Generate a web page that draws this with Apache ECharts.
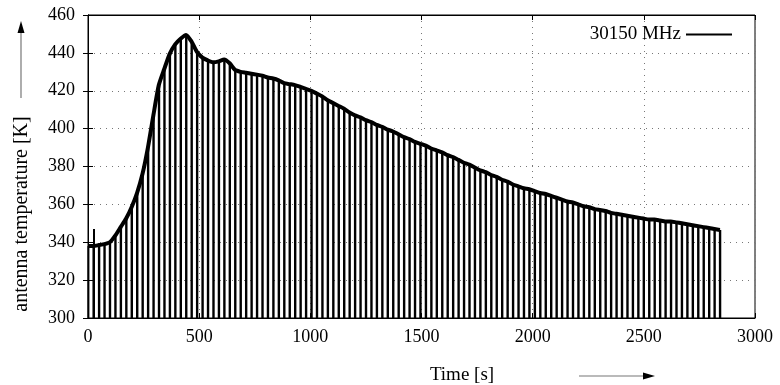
<!DOCTYPE html>
<html>
<head>
<meta charset="utf-8">
<script src="https://cdn.jsdelivr.net/npm/echarts@6/dist/echarts.min.js"></script>
<style>html,body{margin:0;padding:0;background:#fff}#c{width:780px;height:385px}</style>
</head>
<body>
<div id="c"></div>
<script>
var times = [0, 24.5, 49, 73.5, 98, 122.5, 147, 171.5, 196, 220.5, 245, 269.5, 294, 318.5, 343, 367.5, 392, 416.5, 441, 465.5,
  490, 514.5, 539, 563.5, 588, 612.5, 637, 661.5, 686, 710.5, 735, 759.5, 784, 808.5, 833, 857.5, 882, 906.5, 931, 955.5,
  980, 1004.5, 1029, 1053.5, 1078, 1102.5, 1127, 1151.5, 1176, 1200.5, 1225, 1249.5, 1274, 1298.5, 1323, 1347.5, 1372, 1396.5, 1421, 1445.5,
  1470, 1494.5, 1519, 1543.5, 1568, 1592.5, 1617, 1641.5, 1666, 1690.5, 1715, 1739.5, 1764, 1788.5, 1813, 1837.5, 1862, 1886.5, 1911, 1935.5,
  1960, 1984.5, 2009, 2033.5, 2058, 2082.5, 2107, 2131.5, 2156, 2180.5, 2205, 2229.5, 2254, 2278.5, 2303, 2327.5, 2352, 2376.5, 2401, 2425.5,
  2450, 2474.5, 2499, 2523.5, 2548, 2572.5, 2597, 2621.5, 2646, 2670.5, 2695, 2719.5, 2744, 2768.5, 2793, 2817.5, 2842];
var temps = [338, 338, 338.5, 339, 340, 343.5, 348, 352.5, 358.5, 366, 376, 390, 407, 423, 431.5, 439.5, 444.5, 447.5, 449.5, 446,
  440.5, 437.5, 436, 435, 435.5, 436.5, 434.5, 431, 430, 429.5, 429, 428.5, 428, 427, 426.5, 425.5, 424, 423.5, 423, 422,
  421, 420, 418.5, 417, 415, 413.5, 412, 410.5, 408.5, 407, 406, 404.5, 403.5, 402, 401, 399.5, 398.5, 397, 395.5, 394.5,
  393, 392, 391, 389.5, 388.5, 387.5, 386, 385, 383.5, 382, 381, 379.5, 378, 377, 375.5, 374.5, 373, 372, 370.5, 369.5,
  368.5, 368, 367, 366, 365.5, 364.5, 363.5, 362.5, 361.5, 361, 360, 359, 358.5, 357.5, 357, 356.5, 355.5, 355, 354.5, 354,
  353.5, 353, 352.5, 352, 352, 351.5, 351, 351, 350.5, 350, 349.5, 349, 348.5, 348, 347.5, 347, 346.5];
var spikeTimes = [27];
var spikeValues = [347];
var xTicks = [0, 500, 1000, 1500, 2000, 2500, 3000];
var yTicks = [300, 320, 340, 360, 380, 400, 420, 440, 460];
var seriesName = '30150 MHz';

var curve = times.map(function (t, i) { return [t, temps[i]]; });
var spikes = spikeTimes.map(function (t, i) { return [t, spikeValues[i]]; });

var FONT = 'Liberation Serif';
var chart = echarts.init(document.getElementById('c'));
var gridLine = { show: true, lineStyle: { color: '#777', type: [1, 5], width: 1 } };
chart.setOption({
  animation: false,
  textStyle: { fontFamily: FONT },
  grid: { left: 88, right: 25, top: 15, bottom: 67, show: true, borderColor: '#000', borderWidth: 1 },
  legend: {
    data: [seriesName], right: 43, top: 20, align: 'right', itemWidth: 46, itemHeight: 2, icon: 'rect',
    textStyle: { fontFamily: FONT, fontSize: 19, color: '#000' }, itemGap: 0
  },
  xAxis: [{
    type: 'value', min: xTicks[0], max: xTicks[xTicks.length - 1], interval: 500,
    axisLine: { show: true, lineStyle: { color: '#000' } },
    axisTick: { show: true, inside: true, length: 5, lineStyle: { color: '#000' } },
    axisLabel: { fontFamily: FONT, fontSize: 18, color: '#000', margin: 10, formatter: function (v) { return String(v); } },
    splitLine: gridLine
  }, {
    type: 'value', position: 'top', min: xTicks[0], max: xTicks[xTicks.length - 1], interval: 500,
    axisLine: { show: true, lineStyle: { color: '#000' } },
    axisTick: { show: true, inside: true, length: 5, lineStyle: { color: '#000' } },
    axisLabel: { show: false }, splitLine: { show: false }
  }],
  yAxis: [{
    type: 'value', min: yTicks[0], max: yTicks[yTicks.length - 1], interval: 20,
    axisLine: { show: true, lineStyle: { color: '#000' } },
    axisTick: { show: true, inside: true, length: 5, lineStyle: { color: '#000' } },
    axisLabel: { fontFamily: FONT, fontSize: 18, color: '#000', margin: 13, formatter: function (v) { return String(v); } },
    splitLine: gridLine
  }, {
    type: 'value', position: 'right', min: yTicks[0], max: yTicks[yTicks.length - 1], interval: 20,
    axisLine: { show: true, lineStyle: { color: '#000' } },
    axisTick: { show: true, inside: true, length: 5, lineStyle: { color: '#000' } },
    axisLabel: { show: false }, splitLine: { show: false }
  }],
  series: [{
    name: 'dips', type: 'bar', data: curve, barWidth: 2.4, itemStyle: { color: '#000' },
    xAxisIndex: 0, yAxisIndex: 0, silent: true, z: 2
  }, {
    name: 'spike', type: 'bar', data: spikes, barWidth: 2, itemStyle: { color: '#000' },
    xAxisIndex: 0, yAxisIndex: 0, silent: true, z: 2, barGap: '-100%'
  }, {
    name: seriesName, type: 'line', data: curve, showSymbol: false, smooth: 0.2,
    lineStyle: { color: '#000', width: 4 }, itemStyle: { color: '#000' }, z: 3
  }],
  graphic: [
    { type: 'text', x: 22, y: 214, rotation: Math.PI / 2,
      style: { text: 'antenna temperature [K]', font: '20px "Liberation Serif"', fill: '#000', textAlign: 'center', textVerticalAlign: 'middle' } },
    { type: 'line', shape: { x1: 21, y1: 98, x2: 21, y2: 32 }, style: { stroke: '#777', lineWidth: 1.2 } },
    { type: 'polygon', shape: { points: [[21, 21], [17.5, 33], [24.5, 33]] }, style: { fill: '#000' } },
    { type: 'text', x: 462, y: 375,
      style: { text: 'Time [s]', font: '19px "Liberation Serif"', fill: '#000', textAlign: 'center', textVerticalAlign: 'middle' } },
    { type: 'line', shape: { x1: 579, y1: 376, x2: 645, y2: 376 }, style: { stroke: '#777', lineWidth: 1.2 } },
    { type: 'polygon', shape: { points: [[655, 376], [643, 372.5], [643, 379.5]] }, style: { fill: '#000' } }
  ]
});
</script>
</body>
</html>
